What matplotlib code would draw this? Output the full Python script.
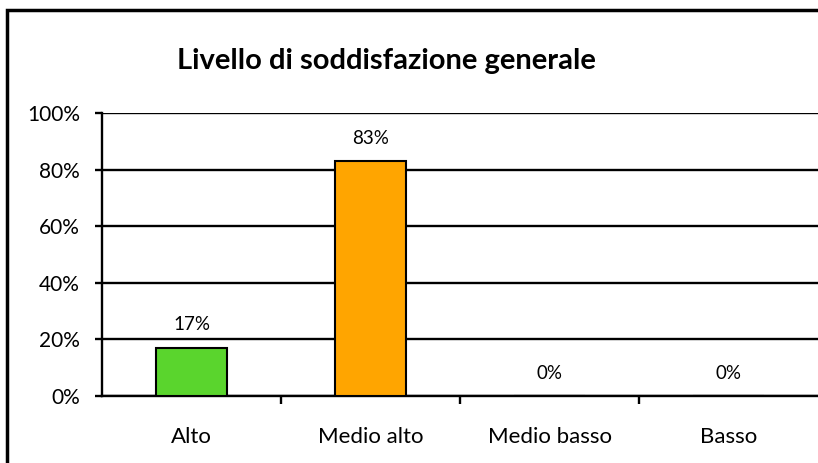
import numpy as np
import matplotlib
matplotlib.use('Agg')
import matplotlib.pyplot as plt
from matplotlib.patches import Rectangle
from matplotlib.ticker import FuncFormatter

# data
categories = ['Alto', 'Medio alto', 'Medio basso', 'Basso']
values = [0.17, 0.83, 0.0, 0.0]
bar_colors = ['#5AD52D', '#FFA500', '#FFA500', '#FFA500']
title = 'Livello di soddisfazione generale'

plt.rcParams['font.family'] = ['Lato', 'DejaVu Sans']

fig = plt.figure(figsize=(8.18, 4.63), dpi=100)
ax = fig.add_axes([102 / 818, 1 - 396 / 463, 1 - 102 / 818, (396 - 113) / 463])

x = np.arange(len(categories))
ax.bar(x, values, width=0.4, color=bar_colors, edgecolor='black', linewidth=1.5, zorder=3)

# percentage labels above the bars
for xi, v in zip(x, values):
    ax.annotate('{:.0f}%'.format(v * 100), (xi, v), xytext=(0, 16.5), textcoords='offset points',
                ha='center', va='center', fontsize=13.5)

ax.set_xlim(-0.5, len(categories) - 0.5)
ax.set_ylim(0, 1)
ax.set_yticks(np.arange(0, 1.01, 0.2))
ax.yaxis.set_major_formatter(FuncFormatter(lambda v, p: '{:.0f}%'.format(v * 100)))
ax.grid(axis='y', color='black', linewidth=1.7, zorder=1)

# category ticks sit between bars, labels in the middle
ax.set_xticks(np.arange(0.5, len(categories) - 0.5, 1))
ax.set_xticklabels([])
ax.set_xticks(x, minor=True)
ax.set_xticklabels(categories, minor=True, fontsize=16)
ax.tick_params(axis='x', which='minor', length=0, pad=22.5)
ax.tick_params(axis='x', which='major', length=6, width=1.7, direction='out')
ax.tick_params(axis='y', length=5, width=1.7, direction='out', labelsize=15, pad=11)

for side in ['top', 'right']:
    ax.spines[side].set_visible(False)
for side in ['left', 'bottom']:
    ax.spines[side].set_linewidth(1.7)

fig.text(386 / 818, 1 - 61 / 463, title, ha='center', va='center', fontsize=21, fontweight='bold')

# outer chart border (runs off the right and bottom)
fig.patches.append(Rectangle((7 / 818, -0.2), 2, 1.2 - 10 / 463, transform=fig.transFigure,
                             fill=False, edgecolor='black', linewidth=2.5))

fig.savefig('out.png', dpi=100)
